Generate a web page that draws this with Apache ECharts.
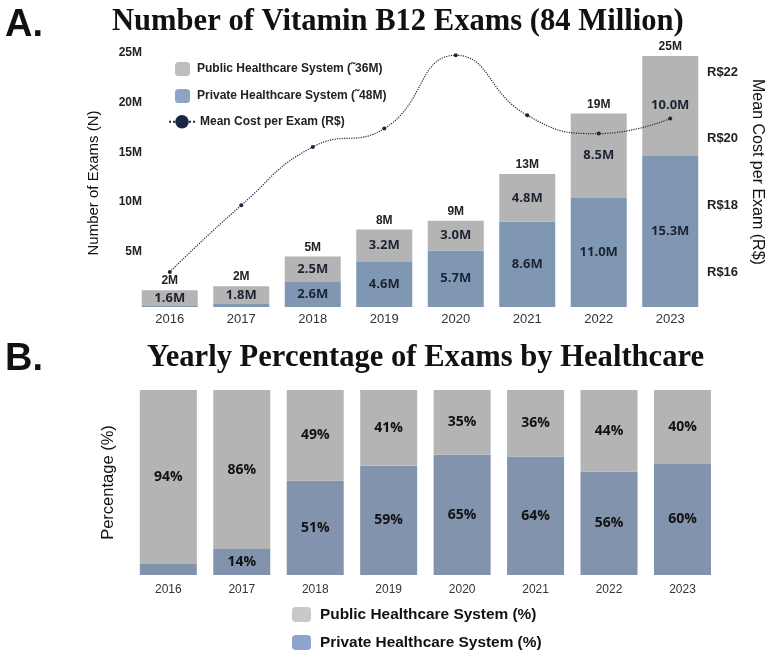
<!DOCTYPE html>
<html>
<head>
<meta charset="utf-8">
<script src="https://cdn.jsdelivr.net/npm/echarts@6/dist/echarts.min.js"></script>
<style>
  html, body { margin: 0; padding: 0; background: #fff; }
  #chart { width: 767px; height: 656px; }
</style>
</head>
<body>
<div id="chart"></div>
<script>
// values
const years = ['2016', '2017', '2018', '2019', '2020', '2021', '2022', '2023']
const publicExams = [1.6, 1.8, 2.5, 3.2, 3.0, 4.8, 8.5, 10.0]   // millions
const privateExams = [0.1, 0.3, 2.6, 4.6, 5.7, 8.6, 11.0, 15.3] // millions
const totalLabels = ['2M', '2M', '5M', '8M', '9M', '13M', '19M', '25M']
const meanCost = [16.0, 18.0, 19.75, 20.3, 22.5, 20.7, 20.15, 20.6] // R$
const publicPct = [94, 86, 49, 41, 35, 36, 44, 40]
const privatePct = [6, 14, 51, 59, 65, 64, 56, 60]

const grey = '#b4b4b4'
const blue = '#7f97b3'
const blue2 = '#8293ad'
const dark = '#1b2740'

const labelFont = { fontFamily: 'Open Sans', fontWeight: 'bold', color: '#1c2433' }
const titleFont = { fontFamily: 'Liberation Serif', fontWeight: 'bold', fontSize: 30.6, color: '#111' }
const letterFont = { fontFamily: 'Liberation Sans', fontWeight: 'bold', fontSize: 38, color: '#111' }

const myChart = echarts.init(document.getElementById('chart'))

const option = {
  animation: false,
  backgroundColor: '#fff',
  textStyle: { fontFamily: 'Liberation Sans' },
  title: [
    { text: 'A.', left: 5, top: 7, padding: 0, textStyle: letterFont },
    { text: 'Number of Vitamin B12 Exams (84 Million)', left: 112, top: 7, padding: 0, textStyle: titleFont },
    { text: 'B.', left: 5, top: 341, padding: 0, textStyle: letterFont },
    { text: 'Yearly Percentage of Exams by Healthcare', left: 147, top: 343, padding: 0, textStyle: titleFont }
  ],
  legend: [
    {
      orient: 'vertical', left: 175, top: 62, padding: 0, itemWidth: 15, itemHeight: 14, itemGap: 13,
      selectedMode: false,
      textStyle: { fontSize: 12, fontWeight: 'bold', color: '#222', padding: [0, 0, 0, 2] },
      data: [
        { name: 'Public Healthcare System (˜36M)', itemStyle: { color: '#bdbdbd' } },
        { name: 'Private Healthcare System (˜48M)', itemStyle: { color: '#8ca5c4' } }
      ]
    },
    {
      orient: 'vertical', left: 168, top: 115, padding: 0, itemWidth: 26, itemHeight: 17,
      selectedMode: false,
      textStyle: { fontSize: 12, fontWeight: 'bold', color: '#222' },
      data: ['Mean Cost per Exam (R$)']
    },
    {
      orient: 'vertical', left: 292, top: 607, padding: 0, itemWidth: 19, itemHeight: 15, itemGap: 13,
      selectedMode: false,
      textStyle: { fontSize: 15.4, fontWeight: 'bold', color: '#111', padding: [0, 0, 0, 4] },
      data: [
        { name: 'Public Healthcare System (%)', itemStyle: { color: '#c9c9c9' } },
        { name: 'Private Healthcare System (%)', itemStyle: { color: '#8ea3cf' } }
      ]
    }
  ],
  grid: [
    { left: 134, width: 572, top: 59, height: 248, outerBoundsMode: 'none' },
    { left: 134, width: 572, top: 5.3, height: 333.3, outerBoundsMode: 'none' },
    { left: 131.6, width: 587.6, top: 390, height: 185, outerBoundsMode: 'none' }
  ],
  xAxis: [
    {
      gridIndex: 0, type: 'category', data: years,
      axisLine: { show: false }, axisTick: { show: false },
      axisLabel: { fontSize: 13, color: '#333', margin: 6 }
    },
    { gridIndex: 1, type: 'category', data: years, show: false },
    {
      gridIndex: 2, type: 'category', data: years,
      axisLine: { show: false }, axisTick: { show: false },
      axisLabel: { fontSize: 12, color: '#333', margin: 9 }
    }
  ],
  yAxis: [
    {
      gridIndex: 0, type: 'value', min: 0, max: 25, interval: 5,
      name: 'Number of Exams (N)', nameLocation: 'middle', nameRotate: 90, nameGap: 33,
      nameMoveOverlap: false,
      nameTextStyle: { fontSize: 15, color: '#111' },
      axisLine: { show: false }, axisTick: { show: false }, splitLine: { show: false },
      axisLabel: {
        showMinLabel: false, margin: -8, verticalAlign: 'bottom',
        fontSize: 12, fontWeight: 'bold', color: '#222',
        formatter: v => v + 'M'
      }
    },
    {
      gridIndex: 1, type: 'value', position: 'right', min: 14, max: 24, interval: 2,
      name: 'Mean Cost per Exam (R$)', nameLocation: 'middle', nameRotate: -90, nameGap: 43,
      nameMoveOverlap: false,
      nameTextStyle: { fontSize: 16, color: '#111' },
      axisLine: { show: false }, axisTick: { show: false }, splitLine: { show: false },
      axisLabel: {
        showMinLabel: false, showMaxLabel: false, margin: 1,
        fontSize: 13, fontWeight: 'bold', color: '#222',
        formatter: v => 'R$' + v
      }
    },
    {
      gridIndex: 2, type: 'value', min: 0, max: 100,
      name: 'Percentage (%)', nameLocation: 'middle', nameRotate: 90, nameGap: 15,
      nameMoveOverlap: false,
      nameTextStyle: { fontSize: 16.5, color: '#111' },
      axisLine: { show: false }, axisTick: { show: false }, splitLine: { show: false },
      axisLabel: { show: false }
    }
  ],
  series: [
    {
      name: 'Private Healthcare System (˜48M)', type: 'bar', stack: 'exams',
      xAxisIndex: 0, yAxisIndex: 0, barWidth: 56, clip: false,
      itemStyle: { color: blue },
      label: {
        show: true, position: 'inside', fontSize: 13, ...labelFont,
        formatter: p => p.value < 1 ? '' : p.value.toFixed(1) + 'M'
      },
      data: privateExams
    },
    {
      name: 'Public Healthcare System (˜36M)', type: 'bar', stack: 'exams',
      xAxisIndex: 0, yAxisIndex: 0, barWidth: 56, clip: false,
      itemStyle: { color: grey },
      label: {
        show: true, position: 'inside', fontSize: 13, ...labelFont,
        formatter: p => p.value.toFixed(1) + 'M'
      },
      data: publicExams
    },
    {
      // empty bar on top of the stack to carry the total labels
      name: 'total', type: 'bar', stack: 'exams',
      xAxisIndex: 0, yAxisIndex: 0, barWidth: 56, clip: false,
      itemStyle: { color: 'transparent' },
      label: {
        show: true, position: 'top', distance: 3,
        fontSize: 12, fontWeight: 'bold', color: '#222',
        formatter: p => totalLabels[p.dataIndex]
      },
      data: years.map(() => 0)
    },
    {
      name: 'Mean Cost per Exam (R$)', type: 'line',
      xAxisIndex: 1, yAxisIndex: 1, smooth: 0.5,
      symbol: 'circle', symbolSize: 4,
      itemStyle: { color: dark },
      lineStyle: { color: dark, width: 1.2, type: 'dotted' },
      data: meanCost
    },
    {
      name: 'Private Healthcare System (%)', type: 'bar', stack: 'pct',
      xAxisIndex: 2, yAxisIndex: 2, barWidth: 57,
      itemStyle: { color: blue2 },
      label: {
        show: true, position: 'inside', fontSize: 14, ...labelFont, color: '#111',
        formatter: p => p.value < 10 ? '' : p.value + '%'
      },
      data: privatePct
    },
    {
      name: 'Public Healthcare System (%)', type: 'bar', stack: 'pct',
      xAxisIndex: 2, yAxisIndex: 2, barWidth: 57,
      itemStyle: { color: grey },
      label: {
        show: true, position: 'inside', fontSize: 14, ...labelFont, color: '#111',
        formatter: p => p.value + '%'
      },
      data: publicPct
    }
  ]
}

myChart.setOption(option)
</script>
</body>
</html>
